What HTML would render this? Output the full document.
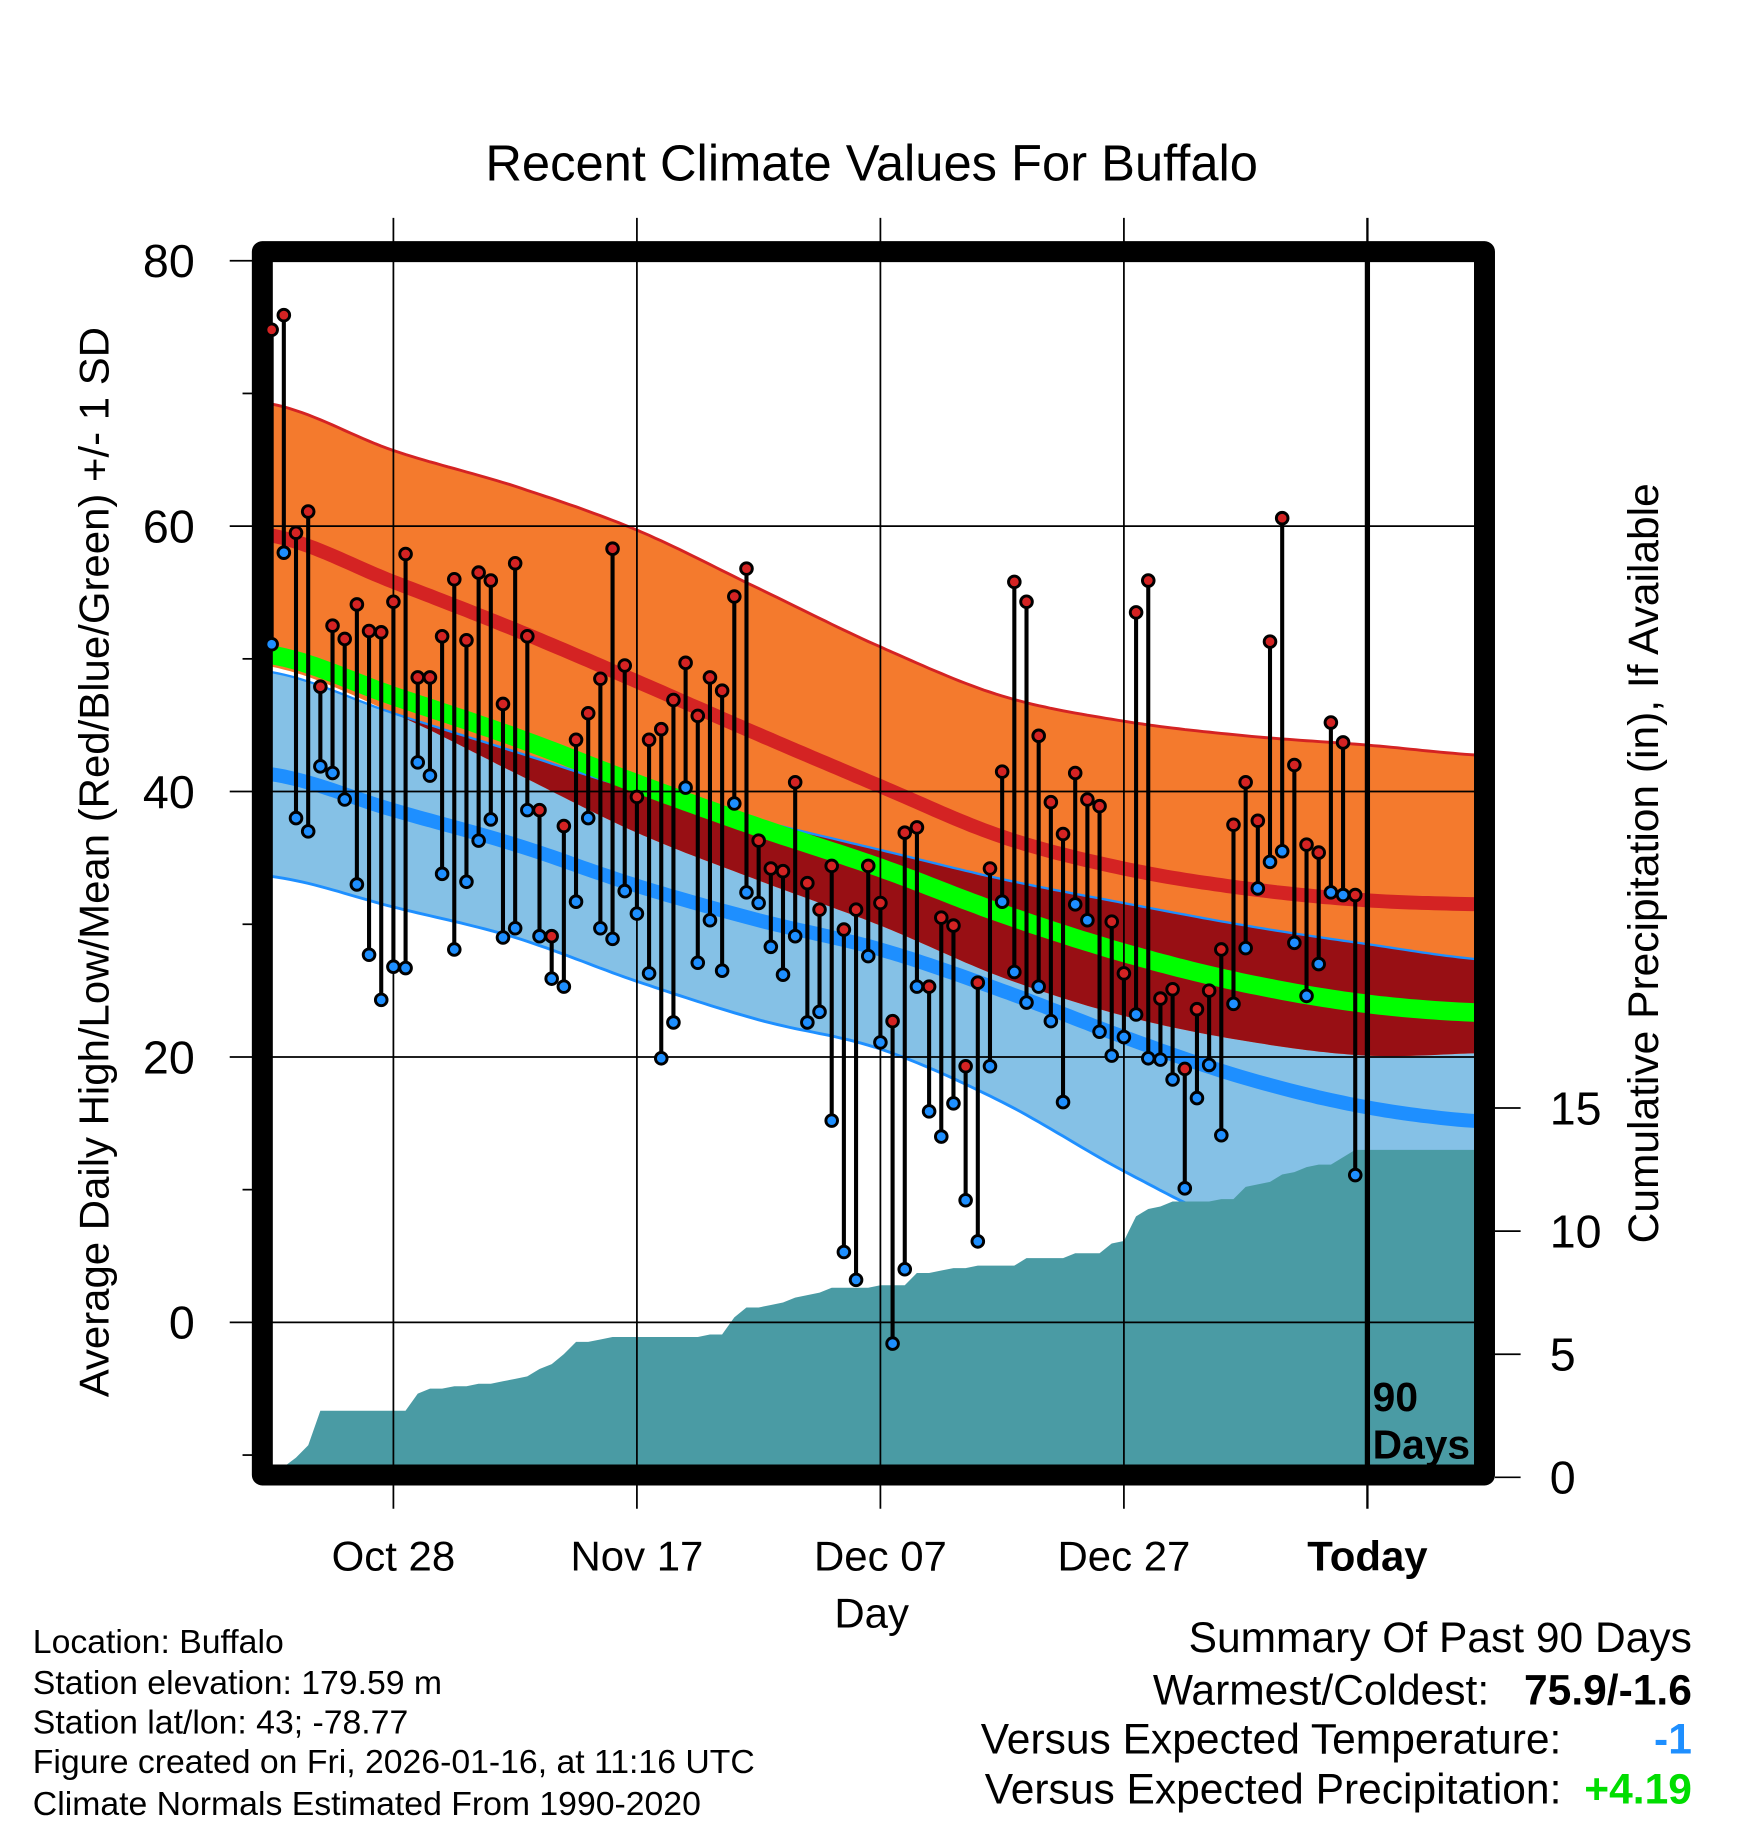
<!DOCTYPE html>
<html><head><meta charset="utf-8"><style>
html,body{margin:0;padding:0;background:#fff}
svg{display:block;font-family:"Liberation Sans",sans-serif}
</style></head><body>
<svg id="chart" width="1748" height="1828" viewBox="0 0 1500 1569" xmlns="http://www.w3.org/2000/svg">
<defs>
<clipPath id="plotClip"><rect x="233" y="224" width="1033" height="1035"/></clipPath>
<clipPath id="orangeClip"><path id="orangeClipPath" d=""/></clipPath>
</defs>
<text x="748" y="155" font-size="43.5" text-anchor="middle">Recent Climate Values For Buffalo</text>
<g id="bands" clip-path="url(#plotClip)"></g>
<g id="grid"></g>
<g id="frame"></g>
<g id="marks"></g>
<g id="axes"></g>
<text transform="translate(93,740) rotate(-90)" font-size="36" text-anchor="middle">Average Daily High/Low/Mean (Red/Blue/Green) +/- 1 SD</text>
<text transform="translate(1423,741) rotate(-90)" font-size="36.5" text-anchor="middle">Cumulative Precipitation (in), If Available</text>
<text x="748" y="1397" font-size="36" text-anchor="middle">Day</text>
<g font-size="29">
<text x="28" y="1419">Location: Buffalo</text>
<text x="28" y="1454">Station elevation: 179.59 m</text>
<text x="28" y="1488">Station lat/lon: 43; -78.77</text>
<text x="28" y="1522">Figure created on Fri, 2026-01-16, at 11:16 UTC</text>
<text x="28" y="1558">Climate Normals Estimated From 1990-2020</text>
</g>
<g font-size="36.5">
<text x="1452" y="1418" text-anchor="end">Summary Of Past 90 Days</text>
<text x="1278" y="1463" text-anchor="end">Warmest/Coldest:</text>
<text x="1452" y="1463" text-anchor="end" font-weight="bold">75.9/-1.6</text>
<text x="1340" y="1505" text-anchor="end">Versus Expected Temperature:</text>
<text x="1452" y="1505" text-anchor="end" font-weight="bold" fill="#1E8FFF">-1</text>
<text x="1340" y="1548" text-anchor="end">Versus Expected Precipitation:</text>
<text x="1452" y="1548" text-anchor="end" font-weight="bold" fill="#00DD00">+4.19</text>
</g>
</svg>
<script>
// ---- data ----
const highs = [74.8,75.9,59.5,61.1,47.9,52.5,51.5,54.1,52.1,52.0,54.3,57.9,48.6,48.6,51.7,56.0,51.4,56.5,55.9,46.6,57.2,51.7,38.6,29.1,37.4,43.9,45.9,48.5,58.3,49.5,39.6,43.9,44.7,46.9,49.7,45.7,48.6,47.6,54.7,56.8,36.3,34.2,34.0,40.7,33.1,31.1,34.4,29.6,31.1,34.4,31.6,22.7,36.9,37.3,25.3,30.5,29.9,19.3,25.6,34.2,41.5,55.8,54.3,44.2,39.2,36.8,41.4,39.4,38.9,30.2,26.3,53.5,55.9,24.4,25.1,19.1,23.6,25.0,28.1,37.5,40.7,37.8,51.3,60.6,42.0,36.0,35.4,45.2,43.7,32.2];
const lows = [51.1,58.0,38.0,37.0,41.9,41.4,39.4,33.0,27.7,24.3,26.8,26.7,42.2,41.2,33.8,28.1,33.2,36.3,37.9,29.0,29.7,38.6,29.1,25.9,25.3,31.7,38.0,29.7,28.9,32.5,30.8,26.3,19.9,22.6,40.3,27.1,30.3,26.5,39.1,32.4,31.6,28.3,26.2,29.1,22.6,23.4,15.2,5.3,3.2,27.6,21.1,-1.6,4.0,25.3,15.9,14.0,16.5,9.2,6.1,19.3,31.7,26.4,24.1,25.3,22.7,16.6,31.5,30.3,21.9,20.1,21.5,23.2,19.9,19.8,18.3,10.1,16.9,19.4,14.1,24.0,28.2,32.7,34.7,35.5,28.6,24.6,27.0,32.4,32.2,11.1];
const precip = [0,0.3,0.8,1.3,2.7,2.7,2.7,2.7,2.7,2.7,2.7,2.7,3.4,3.6,3.6,3.7,3.7,3.8,3.8,3.9,4.0,4.1,4.4,4.6,5.0,5.5,5.5,5.6,5.7,5.7,5.7,5.7,5.7,5.7,5.7,5.7,5.8,5.8,6.5,6.9,6.9,7.0,7.1,7.3,7.4,7.5,7.7,7.7,7.7,7.7,7.8,7.8,7.8,8.3,8.3,8.4,8.5,8.5,8.6,8.6,8.6,8.6,8.9,8.9,8.9,8.9,9.1,9.1,9.1,9.5,9.6,10.6,10.9,11.0,11.2,11.2,11.2,11.2,11.3,11.3,11.8,11.9,12.0,12.3,12.4,12.6,12.7,12.7,13.0,13.3];
const normDays = [0,10,20,30,40,50,60,70,80,90,100];
const normHigh = [59.3,55.8,52.2,48.3,44.3,40.4,36.6,34.2,32.7,31.8,31.5];
const normHighPlusSD = [69.2,65.7,63.0,59.7,55.3,50.9,47.2,45.3,44.2,43.5,42.7];
const normLow = [41.3,38.6,36.0,32.9,30.3,28.1,25.0,21.5,18.4,16.2,15.1];
const normLowPlusSD = [49.0,45.9,43.0,40.1,37.8,35.6,33.4,31.6,29.9,28.5,27.3];
const xTickDays = [10,30,50,70,90];
const xTickLabels = ["Oct 28","Nov 17","Dec 07","Dec 27","Today"];
const yTicks = [80,60,40,20,0];
const yMinorTicks = [70,50,30,10,-10];
const precipTicks = [0,5,10,15];

// ---- scales ----
const X = d => 233 + d*10.45;
const Y = v => 1135 - v*11.39;
const P = p => 1268 - p*21.13;
const NS = "http://www.w3.org/2000/svg";
function mk(tag, parent, attrs){const e=document.createElementNS(NS,tag);for(const k in attrs)e.setAttribute(k,attrs[k]);parent.appendChild(e);return e;}
function interp(arr, d){
  const n=arr.length;
  let i=Math.min(n-2,Math.max(0,Math.floor(d/10)));
  const t=(d-normDays[i])/(normDays[i+1]-normDays[i]);
  const p0=arr[Math.max(0,i-1)],p1=arr[i],p2=arr[i+1],p3=arr[Math.min(n-1,i+2)];
  const t2=t*t,t3=t2*t;
  return 0.5*((2*p1)+(-p0+p2)*t+(2*p0-5*p1+4*p2-p3)*t2+(-p0+3*p1-3*p2+p3)*t3);
}
const samp=[];for(let d=0;d<=100;d+=0.5)samp.push(d);
const hi=d=>interp(normHigh,d), hiTop=d=>interp(normHighPlusSD,d), hiBot=d=>2*hi(d)-hiTop(d);
const lo=d=>interp(normLow,d), loTop=d=>interp(normLowPlusSD,d), loBot=d=>2*lo(d)-loTop(d);
const mean=d=>(hi(d)+lo(d))/2;
function band(fTop,fBot){let s="M";s+=samp.map(d=>X(d).toFixed(1)+","+Y(fTop(d)).toFixed(1)).join(" L");s+=" L"+samp.slice().reverse().map(d=>X(d).toFixed(1)+","+Y(fBot(d)).toFixed(1)).join(" L");return s+"Z";}
function line(f){return "M"+samp.map(d=>X(d).toFixed(1)+","+Y(f(d)).toFixed(1)).join(" L");}

const bands=document.getElementById('bands');
let e;
e=mk('path',bands,{d:band(loTop,loBot),fill:'#85C1E6'});


e=mk('path',bands,{d:band(hiTop,hiBot),fill:'#F47A2D'});


document.getElementById('orangeClipPath').setAttribute('d',band(hiTop,hiBot));
e=mk('path',bands,{d:band(loTop,loBot),fill:'#980F14','clip-path':'url(#orangeClip)'});


e=mk('path',bands,{d:line(hiTop),fill:'none',stroke:'#D42323','stroke-width':2.5});


e=mk('path',bands,{d:line(loTop),fill:'none',stroke:'#1E8FFF','stroke-width':2});


e=mk('path',bands,{d:line(loBot),fill:'none',stroke:'#1E8FFF','stroke-width':2.5});


e=mk('path',bands,{d:line(hi),fill:'none',stroke:'#D42323','stroke-width':12});


e=mk('path',bands,{d:line(lo),fill:'none',stroke:'#1E8FFF','stroke-width':12});


e=mk('path',bands,{d:line(mean),fill:'none',stroke:'#00FF00','stroke-width':16});


// precip
let pd="M"+X(0)+",1259";
precip.forEach((p,i)=>{pd+=" L"+X(i).toFixed(1)+","+Math.min(1259,P(p)).toFixed(1);});
pd+=" L1266,"+P(precip[precip.length-1]).toFixed(1)+" L1266,1259Z";
e=mk('path',bands,{d:pd,fill:'#4A9BA4'});



// grid
const grid=document.getElementById('grid');
yTicks.forEach(v=>{e=mk('line',grid,{x1:197,x2:1266,y1:Y(v),y2:Y(v),stroke:'#000','stroke-width':1.5});

});
xTickDays.forEach((d,i)=>{if(i<4){e=mk('line',grid,{x1:X(d),x2:X(d),y1:187,y2:1295,stroke:'#000','stroke-width':1.5});

}});
e=mk('line',grid,{x1:X(90),x2:X(90),y1:187,y2:1295,stroke:'#000','stroke-width':2});


e=mk('line',grid,{x1:X(90),x2:X(90),y1:216,y2:1266,stroke:'#000','stroke-width':4.5});


e=mk('text',grid,{x:1178,y:1211,'font-size':35,'font-weight':'bold'});e.textContent='90';


e=mk('text',grid,{x:1178,y:1252,'font-size':35,'font-weight':'bold'});e.textContent='Days';



// frame
const frame=document.getElementById('frame');
mk('rect',frame,{x:225,y:216,width:1049,height:1050,fill:'none',stroke:'#000','stroke-width':18,'stroke-linejoin':'round'});

// marks
const marks=document.getElementById('marks');
highs.forEach((h,i)=>{
  const x=X(i);
  e=mk('line',marks,{x1:x,x2:x,y1:Y(h),y2:Y(lows[i]),stroke:'#000','stroke-width':3.5});
  
  
});
highs.forEach((h,i)=>{
  const x=X(i);
  e=mk('circle',marks,{cx:x,cy:Y(lows[i]),r:5,fill:'#1E8FFF',stroke:'#000','stroke-width':2.5});
  
  
  e=mk('circle',marks,{cx:x,cy:Y(h),r:5,fill:'#D42323',stroke:'#000','stroke-width':2.5});
  
  
});

// axes
const axes=document.getElementById('axes');
yTicks.forEach(v=>{e=mk('text',axes,{x:167,y:Y(v)+14,'font-size':40,'text-anchor':'end'});e.textContent=v;

});
yMinorTicks.forEach(v=>{e=mk('line',axes,{x1:208,x2:217,y1:Y(v),y2:Y(v),stroke:'#000','stroke-width':1.5});

});
precipTicks.forEach(p=>{
  e=mk('line',axes,{x1:1283,x2:1305,y1:P(p),y2:P(p),stroke:'#000','stroke-width':1.5});
  
  
  e=mk('text',axes,{x:1330,y:P(p)+14,'font-size':40});e.textContent=p;
  
  
});
xTickDays.forEach((d,i)=>{e=mk('text',axes,{x:X(d),y:1348,'font-size':36,'text-anchor':'middle'});e.textContent=xTickLabels[i];
if(i===4)e.setAttribute('font-weight','bold');

});
</script>
</body></html>
